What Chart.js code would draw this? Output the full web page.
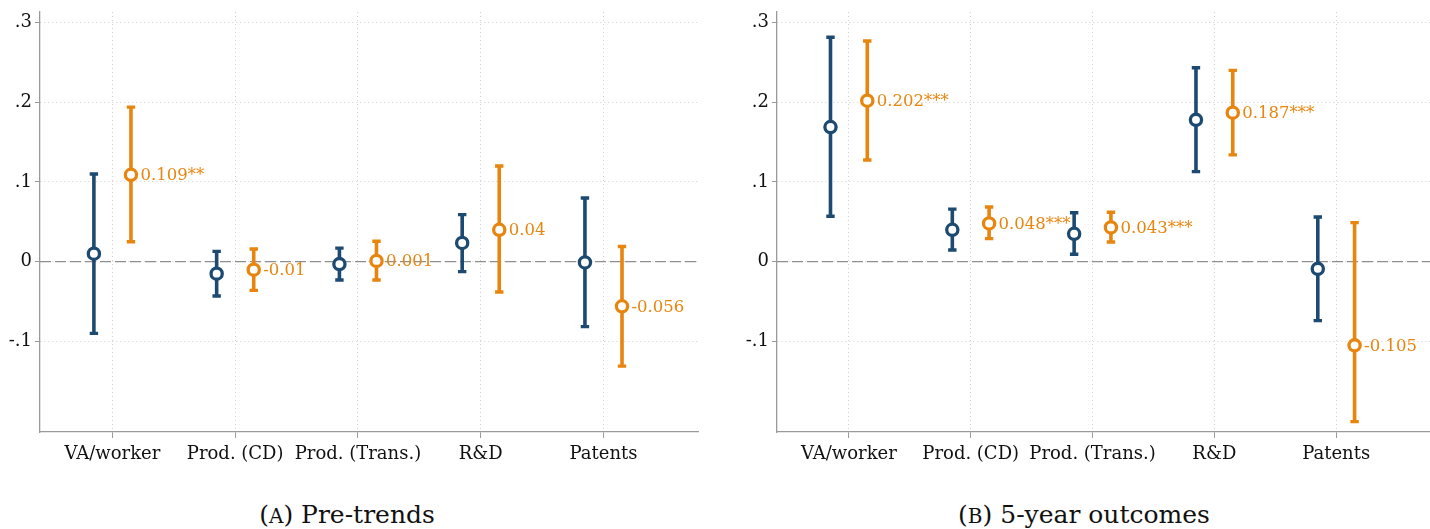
<!DOCTYPE html>
<html><head><meta charset="utf-8">
<script src="https://cdn.jsdelivr.net/npm/chart.js@4"></script>
<style>
body{margin:0;background:#fff;width:1430px;height:529px;overflow:hidden;position:relative;font-family:'DejaVu Serif',serif;}
.pane{position:absolute;top:0;height:480px;}
.cap{position:absolute;top:500px;font-size:25px;color:#111;text-align:center;white-space:nowrap;}
.sc{font-size:20px;}
</style></head><body>
<div class="pane" style="left:0;width:700px"><canvas id="cA"></canvas></div>
<div class="pane" style="left:737px;width:693px"><canvas id="cB"></canvas></div>
<div class="cap" style="left:147px;width:400px">(<span class="sc">A</span>) Pre-trends</div>
<div class="cap" style="left:884px;width:400px">(<span class="sc">B</span>) 5-year outcomes</div>
<script>
// ---- data ----
const categories = ['VA/worker', 'Prod. (CD)', 'Prod. (Trans.)', 'R&D', 'Patents'];
const yTicks = [-0.1, 0, 0.1, 0.2, 0.3];

// Panel A: Pre-trends
const preBlueEst = [0.010, -0.015, -0.003, 0.0235, -0.001];
const preBlueLo  = [-0.090, -0.043, -0.023, -0.0125, -0.0815];
const preBlueHi  = [0.110, 0.013, 0.017, 0.059, 0.080];
const preOrangeEst = [0.109, -0.010, 0.001, 0.040, -0.056];
const preOrangeLo  = [0.025, -0.036, -0.023, -0.038, -0.131];
const preOrangeHi  = [0.194, 0.016, 0.0256, 0.120, 0.019];
const preOrangeLabels = ['0.109**', '-0.01', '0.001', '0.04', '-0.056'];

// Panel B: 5-year outcomes
const outBlueEst = [0.169, 0.040, 0.035, 0.178, -0.009];
const outBlueLo  = [0.057, 0.0147, 0.0093, 0.113, -0.074];
const outBlueHi  = [0.2816, 0.066, 0.0615, 0.2434, 0.056];
const outOrangeEst = [0.202, 0.048, 0.043, 0.187, -0.105];
const outOrangeLo  = [0.1276, 0.0289, 0.0247, 0.134, -0.2007];
const outOrangeHi  = [0.277, 0.0686, 0.062, 0.240, 0.049];
const outOrangeLabels = ['0.202***', '0.048***', '0.043***', '0.187***', '-0.105'];

// ---- styling ----
const BLUE = '#1d4a71';
const ORANGE = '#e8850e';
const OFFSET = 0.151;
Chart.defaults.font.family = "'DejaVu Serif'";

const errorBarPlugin = {
  id: 'errorBars',
  beforeDatasetsDraw(chart) {
    const ctx = chart.ctx, xs = chart.scales.x, ys = chart.scales.y, a = chart.chartArea;
    // zero reference line
    ctx.save();
    ctx.strokeStyle = '#8f8f8f';
    ctx.lineWidth = 1.3;
    ctx.setLineDash([11, 4]);
    const y0 = ys.getPixelForValue(0);
    ctx.beginPath(); ctx.moveTo(a.left, y0); ctx.lineTo(a.right, y0); ctx.stroke();
    ctx.restore();
    chart.data.datasets.forEach(ds => {
      ctx.save();
      ctx.strokeStyle = ds.borderColor;
      ds.data.forEach((p, i) => {
        const x = xs.getPixelForValue(p.x);
        const yl = ys.getPixelForValue(ds.errLo[i]);
        const yh = ys.getPixelForValue(ds.errHi[i]);
        ctx.lineWidth = 3.6;
        ctx.beginPath(); ctx.moveTo(x, yl); ctx.lineTo(x, yh); ctx.stroke();
        ctx.lineWidth = 3.4;
        ctx.beginPath(); ctx.moveTo(x - 4.2, yl); ctx.lineTo(x + 4.2, yl);
        ctx.moveTo(x - 4.2, yh); ctx.lineTo(x + 4.2, yh); ctx.stroke();
      });
      ctx.restore();
    });
  },
  afterDatasetsDraw(chart) {
    const ctx = chart.ctx, xs = chart.scales.x, ys = chart.scales.y;
    chart.data.datasets.forEach(ds => {
      if (!ds.valueLabels) return;
      ctx.save();
      ctx.font = "16.5px 'DejaVu Serif'";
      ctx.fillStyle = ds.borderColor;
      ctx.textAlign = 'left';
      ctx.textBaseline = 'middle';
      ds.data.forEach((p, i) => {
        ctx.fillText(ds.valueLabels[i], xs.getPixelForValue(p.x) + 9.5, ys.getPixelForValue(p.y) + 1);
      });
      ctx.restore();
    });
  }
};

function fmtY(v) {
  if (v === 0) return '0';
  return (v < 0 ? '-' : '') + String(Math.abs(v)).replace(/^0/, '');
}

function makeChart(id, bEst, bLo, bHi, oEst, oLo, oHi, oLabels, padRight) {
  const mk = (est, sign) => est.map((v, i) => ({x: i + 1 + sign * OFFSET, y: v}));
  return new Chart(document.getElementById(id), {
    type: 'scatter',
    data: {
      datasets: [
        {data: mk(bEst, -1), errLo: bLo, errHi: bHi, borderColor: BLUE, backgroundColor: '#fff',
         pointRadius: 5.6, pointBorderWidth: 3.3, pointHoverRadius: 5.6, showLine: false},
        {data: mk(oEst, 1), errLo: oLo, errHi: oHi, valueLabels: oLabels, borderColor: ORANGE, backgroundColor: '#fff',
         pointRadius: 5.6, pointBorderWidth: 3.3, pointHoverRadius: 5.6, showLine: false}
      ]
    },
    options: {
      responsive: true, maintainAspectRatio: false, animation: false,
      layout: {autoPadding: false, padding: {top: 12, right: padRight, left: 0, bottom: 0}},
      plugins: {legend: {display: false}, tooltip: {enabled: false}},
      scales: {
        x: {
          type: 'linear', min: 0.41, max: 5.77,
          afterBuildTicks(s) { s.ticks = categories.map((c, i) => ({value: i + 1})); },
          afterFit(s) { s.height = 48; s.paddingLeft = 0; s.paddingRight = 0; },
          ticks: {callback: v => categories[Math.round(v) - 1] || '', font: {size: 18}, color: '#111',
                  padding: 6, maxRotation: 0, autoSkip: false},
          grid: {color: '#cfcfcf', lineWidth: 1, tickLength: 6, tickColor: '#9a9a9a', tickWidth: 1, tickBorderDash: []},
          border: {display: true, color: '#9a9a9a', width: 1.3, dash: [1, 3]}
        },
        y: {
          min: -0.2137, max: 0.3133,
          afterBuildTicks(s) { s.ticks = yTicks.map(v => ({value: v})); },
          afterFit(s) { s.width = 40; s.paddingTop = 0; s.paddingBottom = 0; },
          ticks: {callback: v => fmtY(v), font: {size: 18}, color: '#111', padding: 3},
          grid: {color: '#cfcfcf', lineWidth: 1, tickLength: 5, tickColor: '#9a9a9a', tickWidth: 1, tickBorderDash: []},
          border: {display: true, color: '#9a9a9a', width: 1.3, dash: [1, 3]}
        }
      }
    },
    plugins: [errorBarPlugin]
  });
}

makeChart('cA', preBlueEst, preBlueLo, preBlueHi, preOrangeEst, preOrangeLo, preOrangeHi, preOrangeLabels, 2);
makeChart('cB', outBlueEst, outBlueLo, outBlueHi, outOrangeEst, outOrangeLo, outOrangeHi, outOrangeLabels, 0);
</script>
</body></html>
